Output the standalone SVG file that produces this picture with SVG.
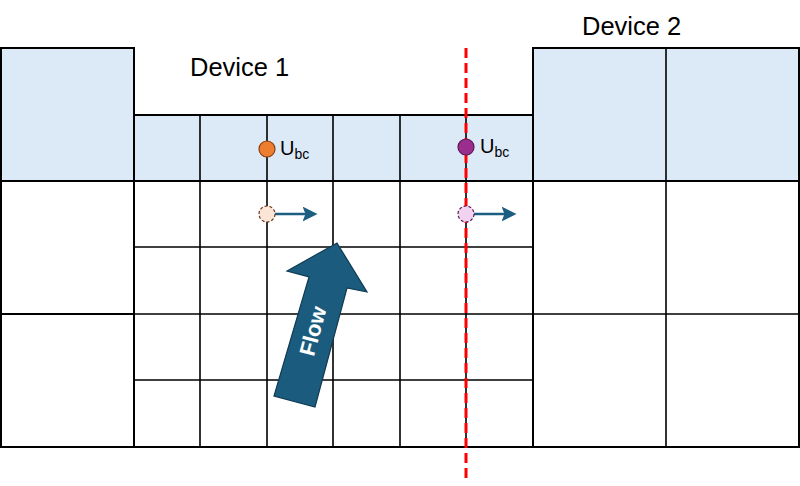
<svg xmlns="http://www.w3.org/2000/svg" width="800" height="486" viewBox="0 0 800 486">
<style>
.cell{fill:#DCE9F6;stroke:#000;stroke-width:2}
.w{fill:#fff;stroke:#000;stroke-width:2}
.ln{stroke:#000;stroke-width:1.6;fill:none}
.lbl{font-family:"Liberation Sans",Arial,sans-serif;font-size:25.5px;fill:#000}
.u{font-family:"Liberation Sans",Arial,sans-serif;font-size:20px;fill:#000}
.vel{stroke:#1C5E82;stroke-width:2.5}
</style>
<defs>
<marker id="ah" markerWidth="6" markerHeight="6" refX="3" refY="3" orient="auto" markerUnits="strokeWidth">
<path d="M0,0 L6,3 L0,6 L1.2,3 Z" fill="#1C5E82"/>
</marker>
</defs>
<rect width="800" height="486" fill="#fff"/>
<g id="device1">
<rect class="cell" x="1" y="48" width="133" height="133"/>
<rect class="cell" x="134" y="115" width="399" height="66"/>
<rect class="w" x="1" y="181" width="133" height="133"/>
<rect class="w" x="1" y="314" width="133" height="133"/>
<rect class="w" x="134" y="181" width="399" height="266"/>
<path class="ln" d="M200,115V447M267,115V447M333,115V447M400,115V447M466,115V447M134,247H533M134,314H533M134,380H533"/>
<text class="lbl" x="190" y="76">Device 1</text>
</g>
<g id="device2">
<rect class="cell" x="533" y="48" width="266" height="133"/>
<rect class="w" x="533" y="181" width="266" height="266"/>
<path class="ln" d="M666,48V447M533,314H799"/>
<text class="lbl" x="582" y="35">Device 2</text>
</g>
<g id="connectors">
<line x1="466" y1="48" x2="466" y2="482" stroke="#FF0000" stroke-width="3" stroke-dasharray="10,5"/>
<line class="vel" x1="275" y1="214" x2="310" y2="214" marker-end="url(#ah)"/>
<line class="vel" x1="474" y1="214" x2="509" y2="214" marker-end="url(#ah)"/>
</g>
<g id="ubc1">
<circle cx="267" cy="149" r="8" fill="#ED7D31" stroke="#8B3F10" stroke-width="1.2"/>
<circle cx="267" cy="214" r="8" fill="#FBE5D6" stroke="#6B3A1E" stroke-width="1.2" stroke-dasharray="3,2"/>
<text class="u" x="280" y="155">U<tspan font-size="14" dy="4">bc</tspan></text>
</g>
<g id="ubc2">
<circle cx="466" cy="147" r="8" fill="#9B2D8E" stroke="#5A1A55" stroke-width="1.2"/>
<circle cx="466" cy="214" r="8" fill="#F2D3EF" stroke="#5A1A55" stroke-width="1.2" stroke-dasharray="3,2"/>
<text class="u" x="480" y="153">U<tspan font-size="14" dy="4">bc</tspan></text>
</g>
<g id="flow">
<polygon points="337,243 367,292 347,288 315,407 274,396 309,277 287,271" fill="#1B5C7E" stroke="#0F3A52" stroke-width="1.2" stroke-linejoin="miter"/>
<text x="313" y="331" transform="rotate(-75 313 331)" text-anchor="middle" dominant-baseline="central" font-family="Liberation Sans,Arial,sans-serif" font-weight="bold" font-size="22" fill="#fff">Flow</text>
</g>
</svg>
